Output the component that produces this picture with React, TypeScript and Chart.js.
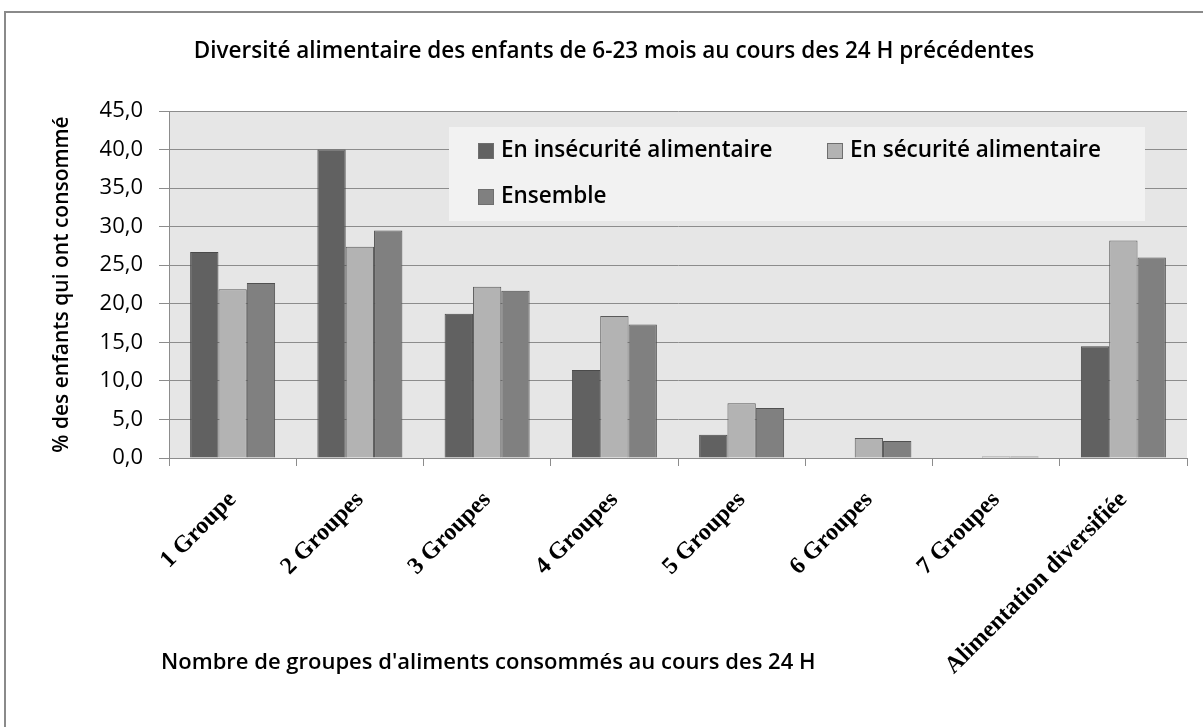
import React, { useEffect, useRef } from 'react';
import { Chart, registerables } from 'chart.js';

Chart.register(...registerables);

const categories = [
  '1 Groupe',
  '2 Groupes',
  '3 Groupes',
  '4 Groupes',
  '5 Groupes',
  '6 Groupes',
  '7 Groupes',
  'Alimentation diversifiée',
];

const seriesLabels = ['En insécurité alimentaire', 'En sécurité alimentaire', 'Ensemble'];

const insecurite = [26.7, 40.0, 18.7, 11.4, 3.0, 0, 0, 14.5];
const securite = [21.9, 27.4, 22.2, 18.4, 7.1, 2.6, 0.2, 28.2];
const ensemble = [22.7, 29.5, 21.7, 17.3, 6.5, 2.2, 0.2, 26.0];

const yMin = 0;
const yMax = 45;
const yStep = 5;

const chartTitle = 'Diversité alimentaire des enfants de 6-23 mois au cours des 24 H précédentes';
const yTitle = '% des enfants qui ont consommé';
const xTitle = "Nombre de groupes d'aliments consommés au cours des 24 H";

const SANS = '"Open Sans", "Noto Sans", sans-serif';
const SERIF = '"Liberation Serif", "DejaVu Serif", serif';

export default function App() {
  const ref = useRef<HTMLCanvasElement | null>(null);

  useEffect(() => {
    const canvas = ref.current;
    if (!canvas) return;

    const decor = {
      id: 'decor',
      beforeDraw(chart: any) {
        const { ctx, chartArea: a } = chart;
        ctx.save();
        ctx.fillStyle = '#ffffff';
        ctx.fillRect(0, 0, chart.width, chart.height);
        ctx.strokeStyle = '#8a8a8a';
        ctx.lineWidth = 2;
        ctx.strokeRect(5, 12, 1250, 800);
        ctx.fillStyle = '#e6e6e6';
        ctx.fillRect(a.left, a.top, a.right - a.left, a.bottom - a.top);
        ctx.restore();
      },
      afterDraw(chart: any) {
        const { ctx } = chart;
        ctx.save();
        // title
        ctx.fillStyle = '#000';
        ctx.font = `600 22.5px ${SANS}`;
        ctx.textAlign = 'center';
        ctx.textBaseline = 'middle';
        ctx.fillText(chartTitle, 614, 52);
        // x title
        ctx.font = `600 22px ${SANS}`;
        ctx.textAlign = 'left';
        ctx.fillText(xTitle, 161, 663);
        // legend
        ctx.fillStyle = '#f2f2f2';
        ctx.fillRect(449, 127, 696, 94);
        const items = [
          { x: 478, y: 151 },
          { x: 827, y: 151 },
          { x: 478, y: 197 },
        ];
        chart.data.datasets.forEach((ds: any, i: number) => {
          const it = items[i];
          ctx.fillStyle = ds.backgroundColor;
          ctx.fillRect(it.x, it.y - 8, 16, 16);
          ctx.strokeStyle = '#6e6e6e';
          ctx.lineWidth = 1;
          ctx.strokeRect(it.x + 0.5, it.y - 7.5, 15, 15);
          ctx.fillStyle = '#000';
          ctx.font = `600 22.5px ${SANS}`;
          ctx.textAlign = 'left';
          ctx.textBaseline = 'middle';
          ctx.fillText(ds.label, it.x + 23, it.y);
        });
        ctx.restore();
      },
    };

    const chart = new Chart(canvas, {
      type: 'bar',
      data: {
        labels: categories,
        datasets: [
          { label: seriesLabels[0], data: insecurite, backgroundColor: '#616161', borderColor: '#4a4a4a', borderWidth: 1 },
          { label: seriesLabels[1], data: securite, backgroundColor: '#b3b3b3', borderColor: '#5a5a5a', borderWidth: 1 },
          { label: seriesLabels[2], data: ensemble, backgroundColor: '#808080', borderColor: '#505050', borderWidth: 1 },
        ].map((d) => ({ ...d, categoryPercentage: 0.668, barPercentage: 1.0 })),
      },
      options: {
        responsive: false,
        animation: false,
        devicePixelRatio: 1,
        layout: { padding: { top: 111, right: 16, left: 0, bottom: 0 } },
        plugins: {
          legend: { display: false },
          title: { display: false },
          tooltip: { enabled: false },
        },
        scales: {
          x: {
            ticks: {
              maxRotation: 45,
              minRotation: 45,
              autoSkip: false,
              color: '#000',
              font: { family: SERIF, size: 24, weight: 'bold' },
              padding: 20,
            },
            grid: { drawOnChartArea: false, color: '#8c8c8c', tickLength: 8, offset: true },
            border: { color: '#8c8c8c' },
            afterFit(s: any) {
              s.height = 269;
            },
          },
          y: {
            min: yMin,
            max: yMax,
            ticks: {
              stepSize: yStep,
              color: '#000',
              font: { family: SANS, size: 22 },
              padding: 16,
              callback: (v: any) => Number(v).toFixed(1).replace('.', ','),
            },
            grid: { color: '#8c8c8c', tickLength: 10 },
            border: { color: '#8c8c8c' },
            title: {
              display: true,
              text: yTitle,
              color: '#000',
              font: { family: SANS, size: 21, weight: '600' },
              padding: { top: 49, bottom: 0 },
            },
            afterFit(s: any) {
              s.width = 169;
            },
          },
        },
      },
      plugins: [decor],
    } as any);

    return () => chart.destroy();
  }, []);

  return (
    <div style={{ position: 'fixed', left: 0, top: 0, width: 1203, height: 727, background: '#fff' }}>
      <canvas ref={ref} width={1203} height={727} style={{ display: 'block', width: 1203, height: 727 }} />
    </div>
  );
}
